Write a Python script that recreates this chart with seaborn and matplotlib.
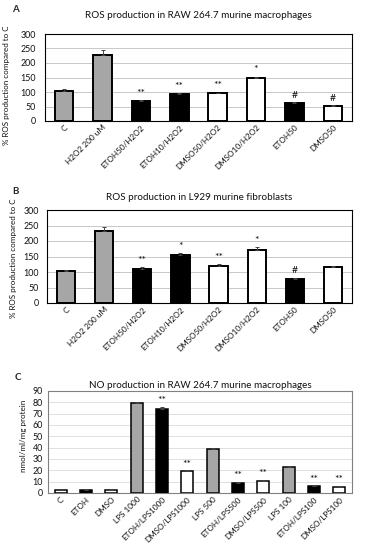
import matplotlib
matplotlib.use("Agg")
import matplotlib.pyplot as plt
import seaborn as sns
import pandas as pd
import numpy as np

sns.set_theme(style="white")
plt.rcParams['font.family'] = ['Lato', 'DejaVu Sans']

# ---- Data ----
cats_ab = ["C", "H2O2 200 uM", "ETOH50/H2O2", "ETOH10/H2O2", "DMSO50/H2O2",
           "DMSO10/H2O2", "ETOH50", "DMSO50"]
colors_ab = ["gray", "gray", "black", "black", "white", "white", "black", "white"]

vals_a = [102, 228, 70, 93, 95, 148, 63, 52]
err_a = [8, 18, 3, 3, 3, 5, 3, 2]
sig_a = ["", "", "**", "**", "**", "*", "#", "#"]

vals_b = [102, 232, 110, 155, 120, 170, 79, 115]
err_b = [4, 14, 5, 5, 5, 10, 2, 3]
sig_b = ["", "", "**", "*", "**", "*", "#", ""]

cats_c = ["C", "ETOH", "DMSO", "LPS 1000", "ETOH/LPS1000", "DMSO/LPS1000",
          "LPS 500", "ETOH/LPS500", "DMSO/LPS500", "LPS 100", "ETOH/LPS100",
          "DMSO/LPS100"]
colors_c = ["white", "black", "white", "gray", "black", "white", "gray",
            "black", "white", "gray", "black", "white"]
vals_c = [2.5, 3, 3, 79.5, 74.5, 19, 39, 9, 10.5, 23, 6, 5.5]
err_c = [0.3, 0.3, 0.3, 0.5, 1.5, 1.0, 0.5, 1.0, 1.0, 0.5, 0.5, 0.5]
sig_c = ["", "", "", "", "**", "**", "", "**", "**", "", "**", "**"]

color_map = {"gray": "#a6a6a6", "black": "#000000", "white": "#ffffff"}
TXT = "#111111"

W, H = 365, 550
fig = plt.figure(figsize=(W / 100, H / 100), dpi=100)


def rect_px(left, right, top, bottom):
    return [left / W, 1 - bottom / H, (right - left) / W, (bottom - top) / H]


def panel(box, cats, vals, errs, cols, sigs, ymax, ystep, title, title_y,
          ylabel, label_xy, frame_color, grid_color, sig_off, lw, ypad):
    ax = fig.add_axes(rect_px(*box))
    df = pd.DataFrame({"cat": cats, "val": vals})
    pal = {c: color_map[k] for c, k in zip(cats, cols)}
    sns.barplot(data=df, x="cat", y="val", hue="cat", palette=pal,
                order=cats, hue_order=cats, legend=False, width=0.48,
                edgecolor="black", linewidth=lw, ax=ax, zorder=3)
    x = np.arange(len(cats))
    ax.errorbar(x, vals, yerr=[np.zeros(len(errs)), errs], fmt="none",
                ecolor="#444444", elinewidth=0.7, capsize=1.5, capthick=0.7,
                zorder=4)
    for xi, v, e, s in zip(x, vals, errs, sigs):
        if s:
            ax.text(xi, v + e + sig_off, s, ha="center", va="bottom",
                    fontsize=7.5, color=TXT)
    ax.set_ylim(0, ymax)
    ax.set_yticks(np.arange(0, ymax + 1, ystep))
    ax.set_xlim(-0.5, len(cats) - 0.5)
    ax.yaxis.grid(True, color=grid_color, linewidth=0.7, zorder=0)
    ax.set_axisbelow(True)
    for sp in ax.spines.values():
        sp.set_color(frame_color)
        sp.set_linewidth(0.8)
    ax.set_xlabel("")
    ax.set_ylabel(ylabel, fontsize=5.8, color=TXT, va="center")
    ax.yaxis.set_label_coords(label_xy[0] / W, 1 - label_xy[1] / H,
                              transform=fig.transFigure)
    ax.tick_params(axis="y", labelsize=6.4, pad=ypad, length=0, colors=TXT)
    ax.tick_params(axis="x", labelsize=5.9, pad=2, length=0, colors=TXT)
    plt.setp(ax.get_xticklabels(), rotation=45, ha="right",
             rotation_mode="anchor")
    fig.text((box[0] + box[1]) / 2 / W, 1 - title_y / H, title, fontsize=7.1,
             color=TXT, ha="center", va="center")
    return ax


axA = panel((45, 352, 34, 121), cats_ab, vals_a, err_a, colors_ab, sig_a,
            300, 50, "ROS production in RAW 264.7 murine macrophages", 15,
            "% ROS production compared to C", (7, 85), "black", "#c8c8c8",
            8, 1.4, 6.5)
axB = panel((47, 352, 210, 303), cats_ab, vals_b, err_b, colors_ab, sig_b,
            300, 50, "ROS production in L929 murine fibroblasts", 197,
            "% ROS production compared to C", (14, 258), "black", "#c8c8c8",
            8, 1.4, 5.8)
axC = panel((48, 352, 391, 493), cats_c, vals_c, err_c, colors_c, sig_c,
            90, 10, "NO production in RAW 264.7 murine macrophages", 385,
            "nmol/ml/mg protein", (24, 436), "#808080", "#e0e0e0",
            1.5, 1.1, 3.6)

fig.text(15 / W, 1 - 10 / H, "A", fontsize=7, fontweight="bold",
         ha="center", va="center")
fig.text(15 / W, 1 - 192 / H, "B", fontsize=7, fontweight="bold",
         ha="center", va="center")
fig.text(18 / W, 1 - 377 / H, "C", fontsize=7, fontweight="bold",
         ha="center", va="center")

fig.savefig("out.png", dpi=100, facecolor="white")
